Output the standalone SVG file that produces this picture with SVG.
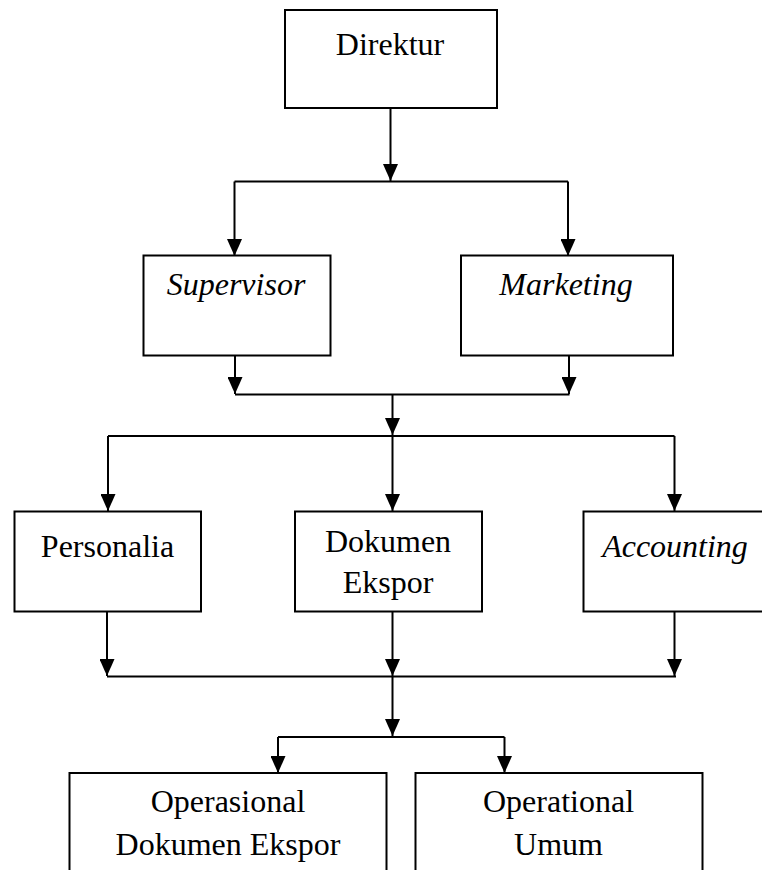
<svg xmlns="http://www.w3.org/2000/svg" width="762" height="870" viewBox="0 0 762 870">
<style>
.box{fill:#fff;stroke:#000;stroke-width:2}
.t{font-family:'Liberation Serif','Times New Roman',serif;font-size:32px;fill:#000;text-anchor:middle}
.i{font-style:italic}
.c{fill:none;stroke:#000;stroke-width:2}
</style>
<defs>
<marker id="ah" markerUnits="userSpaceOnUse" viewBox="0 0 17 15" markerWidth="17" markerHeight="15" refX="17" refY="7.5" orient="auto">
<path d="M0,0 L17,7.5 L0,15 z" fill="#000"/>
</marker>
</defs>
<rect width="762" height="870" fill="#fff"/>
<g id="connectors">
<path class="c" d="M390.5,108 V181" marker-end="url(#ah)"/>
<path class="c" d="M234.5,181.5 H568"/>
<path class="c" d="M234.5,181.5 V256" marker-end="url(#ah)"/>
<path class="c" d="M568,181.5 V256" marker-end="url(#ah)"/>
<path class="c" d="M235,356 V394" marker-end="url(#ah)"/>
<path class="c" d="M569,352 V394" marker-end="url(#ah)"/>
<path class="c" d="M235,394.5 H569.5"/>
<path class="c" d="M392.5,395 V435" marker-end="url(#ah)"/>
<path class="c" d="M108,436 H674.5"/>
<path class="c" d="M108,436 V511" marker-end="url(#ah)"/>
<path class="c" d="M392.5,436 V511" marker-end="url(#ah)"/>
<path class="c" d="M674.5,436 V511" marker-end="url(#ah)"/>
<path class="c" d="M107,612 V676" marker-end="url(#ah)"/>
<path class="c" d="M392.5,612 V676" marker-end="url(#ah)"/>
<path class="c" d="M674.5,612 V676" marker-end="url(#ah)"/>
<path class="c" d="M107,676.5 H676"/>
<path class="c" d="M392.5,677 V736" marker-end="url(#ah)"/>
<path class="c" d="M278,737 H504.5"/>
<path class="c" d="M278,737 V773" marker-end="url(#ah)"/>
<path class="c" d="M504.5,737 V773" marker-end="url(#ah)"/>
</g>
<g id="direktur">
<rect class="box" x="285" y="10" width="212" height="98"/>
<text class="t" x="390" y="55">Direktur</text>
</g>
<g id="supervisor">
<rect class="box" x="143.5" y="255.5" width="187" height="100"/>
<text class="t i" x="236" y="295">Supervisor</text>
</g>
<g id="marketing">
<rect class="box" x="461" y="255.5" width="212" height="100"/>
<text class="t i" x="566" y="295">Marketing</text>
</g>
<g id="personalia">
<rect class="box" x="14.5" y="511.5" width="186.5" height="100"/>
<text class="t" x="107.5" y="557">Personalia</text>
</g>
<g id="dokumen-ekspor">
<rect class="box" x="295" y="511.5" width="187" height="100"/>
<text class="t" x="388" y="552">Dokumen</text>
<text class="t" x="388" y="593">Ekspor</text>
</g>
<g id="accounting">
<rect class="box" x="583.5" y="511.5" width="190" height="100"/>
<text class="t i" x="675" y="557">Accounting</text>
</g>
<g id="operasional-dokumen-ekspor">
<rect class="box" x="69.5" y="773" width="317" height="110"/>
<text class="t" x="228" y="812">Operasional</text>
<text class="t" x="228" y="855">Dokumen Ekspor</text>
</g>
<g id="operational-umum">
<rect class="box" x="415.5" y="773" width="287" height="110"/>
<text class="t" x="558.5" y="812">Operational</text>
<text class="t" x="558.5" y="855">Umum</text>
</g>
</svg>
